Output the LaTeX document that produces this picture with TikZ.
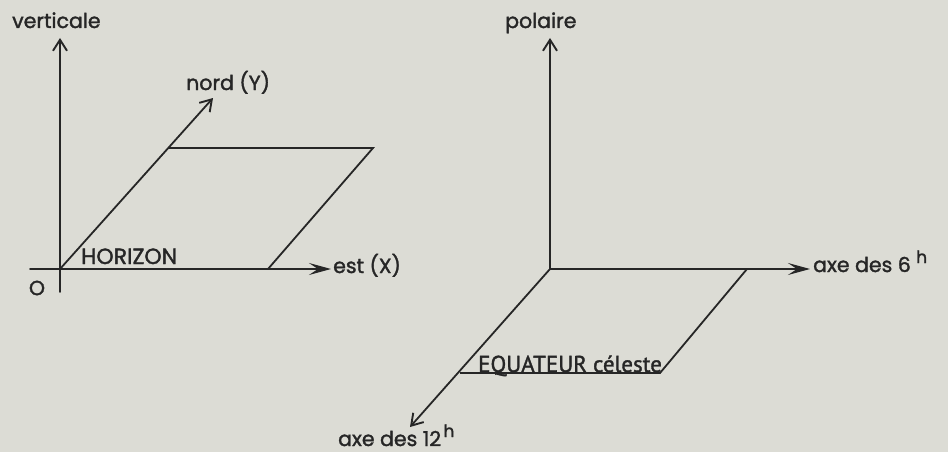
\documentclass[tikz,border=0pt]{standalone}
\usepackage{fontspec}
\setmainfont{Poppins}[FakeBold=1.6]
\newfontfamily\eqfont{PT Sans}[FakeBold=1.4]
\usetikzlibrary{arrows.meta}
\definecolor{bg}{HTML}{DCDCD5}
\definecolor{ink}{HTML}{262626}
\begin{document}
\begin{tikzpicture}[x=1pt,y=-1pt,
  axis/.style={draw=ink,line width=1.8pt,line cap=round},
  edge/.style={draw=ink,line width=1.8pt},
  barb/.style={-{Straight Barb[length=11pt,width=14pt,line width=1.9pt]}},
  stl/.style={-{Stealth[length=22pt,width=12pt,inset=9pt]}},
  lbl/.style={text=ink,inner sep=0pt,anchor=base west,font=\fontsize{20.5}{22}\selectfont},
  suph/.style={text=ink,inner sep=0pt,anchor=base west,font=\fontsize{17}{18}\selectfont}]
\fill[bg] (0,0) rectangle (948,452);
\useasboundingbox (0,0) rectangle (948,452);
% ---- left figure ----
\coordinate (O1) at (60,269);
\coordinate (Vbot) at (60,292);
\coordinate (Vtop) at (60,38);
\coordinate (Xl) at (30,269);
\coordinate (Xr) at (331,269);
\coordinate (Ntip) at (213,98);
\coordinate (Pa) at (168,148);
\coordinate (Pb) at (373,148);
\coordinate (Pc) at (268,269);
\draw[axis,barb] (Vbot) -- (Vtop);
\draw[axis,stl] (Xl) -- (Xr);
\draw[axis,barb] (O1) -- (Ntip);
\draw[edge] (Pa) -- (Pb) -- (Pc);
\node[lbl] (vert) at (12,28) {verticale};
\node[lbl] (nord) at (186,90) {nord (Y)};
\node[lbl] (est) at (333,273) {est (X)};
\node[lbl,font=\fontsize{22}{24}\selectfont] (hor) at (81,264) {HORIZON};
\node[lbl,anchor=center] (O) at (37,288) {O};
% ---- right figure ----
\coordinate (O2) at (550,269);
\coordinate (Ptop) at (550,38);
\coordinate (Q6) at (810,269);
\coordinate (Qa) at (747,269);
\coordinate (Qb) at (660,373);
\coordinate (Qc) at (460,373);
\coordinate (T12) at (410,427);
\draw[axis,barb] (O2) -- (Ptop);
\draw[axis,stl] (O2) -- (Q6);
\draw[axis,barb] (O2) -- (T12);
\draw[edge] (Qa) -- (Qb) -- (Qc);
\node[lbl] (pol) at (505,28) {polaire};
\node[lbl] (ax6) at (813,272) {axe des 6};
\node[suph] (h6) at (ax6.base east) [xshift=5pt,yshift=9pt] {h};
\node[lbl] (ax12) at (338,446) {axe des 12};
\node[suph] (h12) at (ax12.base east) [xshift=2pt,yshift=9pt] {h};
\node[text=ink,inner sep=0pt,anchor=base west,font=\eqfont\fontsize{23}{24}\selectfont] (eq) at (478,372) {EQUATEUR céleste};
\end{tikzpicture}
\end{document}
